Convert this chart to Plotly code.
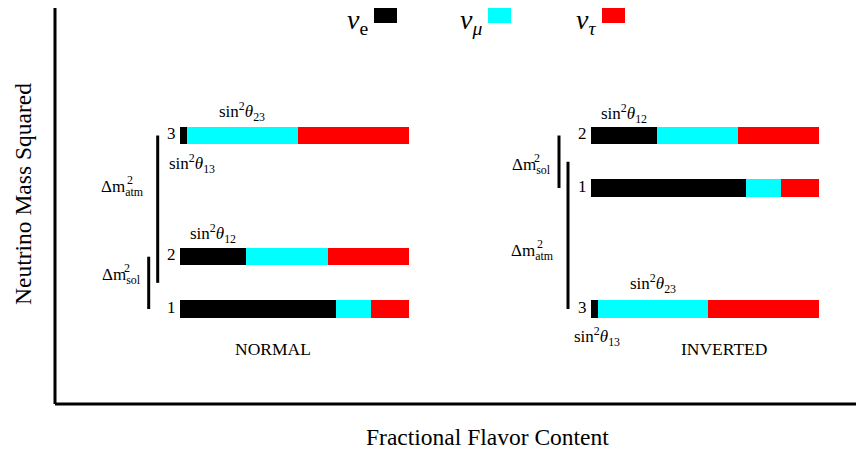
import plotly.graph_objects as go

# ---------------- data ----------------
states = ["1", "2", "3"]
frac_e = [0.68, 0.29, 0.03]      # |U_e i|^2
frac_mu = [0.155, 0.355, 0.485]  # |U_mu i|^2
frac_tau = [0.165, 0.355, 0.485] # |U_tau i|^2
flavor_names = ["e", "μ", "τ"]
flavor_colors = ["#000000", "#00FFFF", "#FF0000"]

# mass-squared levels (arbitrary units) for states 1, 2, 3
msq_normal = [95, 147.3, 268.5]
msq_inverted = [216, 268.5, 95]

hierarchy_labels = ["NORMAL", "INVERTED"]

# ---------------- layout helpers ----------------
OFF = 8                       # page body margin
W, H = 864 - OFF, 453 - OFF   # figure size so that it fits the window
X0, X1 = 55, 864              # plot area in window pixels
Y0, Y1 = 8, 404
ML, MR = X0 - OFF, 0
MT, MB = 0, H - (Y1 - OFF)
PW = X1 - X0
PH = Y1 - Y0
FONT = "Liberation Serif, Times New Roman, serif"


def px(xs):
    return (xs - X0) / PW


def py(ys):
    return (Y1 - ys) / PH


def yv(ys):
    return Y1 - ys


fig = go.Figure()

fracs = [frac_e, frac_mu, frac_tau]
for axis, levels in (("x", msq_normal), ("x2", msq_inverted)):
    for name, col, fr in zip(flavor_names, flavor_colors, fracs):
        fig.add_trace(go.Bar(
            x=fr, y=levels, orientation="h", width=17.5,
            marker=dict(color=col, line=dict(width=0)),
            xaxis=axis, yaxis="y", name="ν" + name, showlegend=False,
            hoverinfo="x+name",
        ))

ann = []
shapes = []

# state numbers
for axis, levels in (("x", msq_normal), ("x2", msq_inverted)):
    for s, lv in zip(states, levels):
        ann.append(dict(x=0, y=lv, xref=axis, yref="y", text=s, showarrow=False,
                        xanchor="right", yanchor="middle", xshift=-2, yshift=2,
                        font=dict(family=FONT, size=17, color="black")))


def sin2(idx):
    return "sin<sup>2</sup><i>θ</i><sub>%s</sub>" % idx


lab_font = dict(family=FONT, size=17, color="black")
# normal hierarchy mixing labels
ann.append(dict(x=frac_e[2] + frac_mu[2] / 2, y=msq_normal[2] + 24, xref="x", yref="y",
                text=sin2("23"), showarrow=False, xanchor="center", yanchor="middle", font=lab_font))
ann.append(dict(x=0.052, y=msq_normal[2] - 28, xref="x", yref="y",
                text=sin2("13"), showarrow=False, xanchor="center", yanchor="middle", font=lab_font))
ann.append(dict(x=frac_e[1] / 2, y=msq_normal[1] + 23.5, xref="x", yref="y",
                text=sin2("12"), showarrow=False, xanchor="center", yanchor="middle", font=lab_font))
# inverted hierarchy mixing labels
ann.append(dict(x=frac_e[1] / 2, y=msq_inverted[1] + 22.5, xref="x2", yref="y",
                text=sin2("12"), showarrow=False, xanchor="center", yanchor="middle", font=lab_font))
ann.append(dict(x=frac_e[2] + frac_mu[2] / 2, y=msq_inverted[2] + 26, xref="x2", yref="y",
                text=sin2("23"), showarrow=False, xanchor="center", yanchor="middle", font=lab_font))
ann.append(dict(x=0.026, y=msq_inverted[2] - 27, xref="x2", yref="y",
                text=sin2("13"), showarrow=False, xanchor="center", yanchor="middle", font=lab_font))

# hierarchy names
for axis, xpos, lab in (("x", 0.404, hierarchy_labels[0]), ("x2", 0.583, hierarchy_labels[1])):
    ann.append(dict(x=xpos, y=yv(349), xref=axis, yref="y", text=lab, showarrow=False,
                    xanchor="center", yanchor="middle",
                    font=dict(family=FONT, size=17.5, color="black")))


# Δm² brackets
def bracket(xs, y0, y1):
    shapes.append(dict(type="line", xref="paper", yref="y", x0=px(xs), x1=px(xs), y0=y0, y1=y1,
                       line=dict(color="black", width=3)))


def dm_label(xr, yc, sub):
    ann.append(dict(x=px(xr), y=yc, xref="paper", yref="y", text="Δm<sub>%s</sub>" % sub,
                    showarrow=False, xanchor="right", yanchor="middle",
                    font=dict(family=FONT, size=17, color="black")))
    ann.append(dict(x=px(xr - (len(sub) * 6.6 + 1)), y=yc + 8, xref="paper", yref="y", text="2",
                    showarrow=False, xanchor="left", yanchor="middle",
                    font=dict(family=FONT, size=12, color="black")))


# normal
bracket(157.7, msq_normal[2], (msq_normal[0] + msq_normal[1]) / 2)
bracket(148.7, msq_normal[1], msq_normal[0])
dm_label(146, yv(188), "atm")
dm_label(143, yv(276), "sol")
# inverted
bracket(559, msq_inverted[1], msq_inverted[0])
bracket(568, (msq_inverted[0] + msq_inverted[1]) / 2, msq_inverted[2])
dm_label(553, yv(166), "sol")
dm_label(556, yv(252), "atm")

# axis lines
shapes.append(dict(type="line", xref="paper", yref="paper", x0=0, x1=0, y0=0, y1=1.02,
                   line=dict(color="black", width=3)))
shapes.append(dict(type="line", xref="paper", yref="paper", x0=0, x1=1.02, y0=0, y1=0,
                   line=dict(color="black", width=3)))

# legend (text followed by swatch)
sw = [(374, 397), (488, 511), (602, 625)]
for (x0, x1), name, col in zip(sw, flavor_names, flavor_colors):
    shapes.append(dict(type="rect", xref="paper", yref="paper", x0=px(x0), x1=px(x1),
                       y0=py(23), y1=py(6), fillcolor=col, line=dict(width=0)))
    sub = name if name == "e" else "<i>%s</i>" % name
    ann.append(dict(x=px(x0 - 4), y=py(21), xref="paper", yref="paper",
                    text="<i>ν</i><sub>%s</sub>" % sub, showarrow=False,
                    xanchor="right", yanchor="middle",
                    font=dict(family=FONT, size=28, color="black")))

# axis titles
ann.append(dict(x=px(487.5), y=py(437), xref="paper", yref="paper", text="Fractional Flavor Content",
                showarrow=False, xanchor="center", yanchor="middle",
                font=dict(family=FONT, size=23.5, color="black")))
ann.append(dict(x=px(23), y=py(194), xref="paper", yref="paper", text="Neutrino Mass Squared",
                showarrow=False, xanchor="center", yanchor="middle", textangle=-90,
                font=dict(family=FONT, size=23.5, color="black")))

hidden = dict(showgrid=False, zeroline=False, showticklabels=False, showline=False, ticks="")
fig.update_layout(
    width=W, height=H,
    margin=dict(l=ML, r=MR, t=MT, b=MB, pad=0),
    paper_bgcolor="white", plot_bgcolor="white",
    barmode="stack", bargap=0,
    xaxis=dict(domain=[px(180), px(409)], range=[0, 1], anchor="y", **hidden),
    xaxis2=dict(domain=[px(591), px(819)], range=[0, 1], anchor="y", **hidden),
    yaxis=dict(range=[0, PH], **hidden),
    annotations=ann, shapes=shapes, showlegend=False,
)

fig.write_html("out.html")
